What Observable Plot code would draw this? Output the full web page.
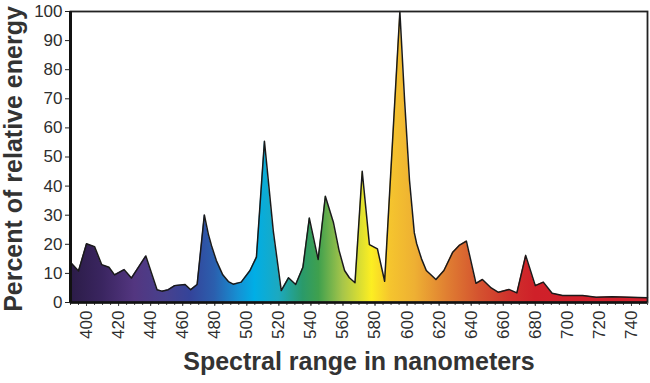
<!DOCTYPE html>
<html><head><meta charset="utf-8">
<script src="https://cdn.jsdelivr.net/npm/d3@7"></script>
<script src="https://cdn.jsdelivr.net/npm/@observablehq/plot@0.6"></script>
<style>body{margin:0;background:#fff}</style>
</head><body><div id="chart"></div>
<script>
const wavelengths = [390,395,400,405,409.5,414,417.5,423.5,428,437,444,447,451,455,461.5,465,469,473.5,476,478,481,485,488.5,491.5,496.5,502,506,511,516.5,521.5,526,530.5,535,539,544.5,549,554,557.5,561,564,567.5,572,576.5,581.5,586,595.5,598.5,601.5,604.5,606,609,612,618,623,628.5,632.5,637,643,647,652.5,657,663.5,668.5,674,680,685,690.5,697,709.5,718,728,738.5,750];
const energy = [13.8,10.8,20.2,19.2,13,12.1,9.5,11.3,8.4,16,4.4,3.9,4.4,5.8,6.2,4.4,6.2,30.1,23.5,19.5,14.4,9.5,7.2,6.3,7,11,15.6,55.4,24.7,4.1,8.5,6.2,12.1,29,14.8,36.5,27.6,18,11,8.5,6.8,45.1,19.9,18.4,7.3,100,69,42,24,20.2,15,11,7.9,11,17.3,19.6,21.1,6.6,7.9,5,3.5,4.5,3.3,16.2,5.8,7,3.2,2.4,2.4,1.8,2,1.8,1.6];
const xTicks = [400,420,440,460,480,500,520,540,560,580,600,620,640,660,680,700,720,740];
const xMinorTicks = d3.range(390, 751, 5);
const yTicks = [0,10,20,30,40,50,60,70,80,90,100];
const gradientNm = [390,410,430,450,465,480,495,505,520,535,545,560,578,590,605,625,645,665,680,750];
const gradientColors = ["#2b1c47","#3a2560","#533680","#47418e","#34449a","#2b5fae","#1591d4","#00aee6","#1ca9c0","#2a9a6a","#3fa04e","#a6c54a","#fcee22","#f5c42e","#eeb033","#e07f32","#d4532f","#d0302c","#cf2029","#d3202e"];
const xLabel = "Spectral range in nanometers";
const yLabel = "Percent of relative energy";

const data = wavelengths.map((w, i) => ({w, e: energy[i]}));

const plot = Plot.plot({
  width: 650, height: 383,
  marginLeft: 70, marginTop: 11, marginRight: 3, marginBottom: 81,
  style: {fontFamily: "'Liberation Sans', Arial, sans-serif", color: "#2e2e2e", background: "#fff"},
  x: {domain: [390, 750]},
  y: {domain: [0, 100]},
  marks: [
    Plot.areaY(data, {x: "w", y: "e", fill: "url(#spec)", curve: "linear"}),
    Plot.lineY(data, {x: "w", y: "e", stroke: "#1a1a1a", strokeWidth: 1.5}),
    Plot.frame({stroke: "#222", strokeWidth: 1.8}),
    Plot.axisY({ticks: yTicks, tickSize: 5, tickPadding: 3, fontSize: 17, label: null, stroke: "#222"}),
    Plot.axisX({ticks: xMinorTicks, tickSize: 3, tickFormat: () => "", label: null, stroke: "#444"}),
    Plot.axisX({ticks: xTicks, tickSize: 4, tickPadding: 4, tickRotate: -90, fontSize: 17, label: null, stroke: "#444"}),
    Plot.ruleX([390], {stroke: "#111", strokeWidth: 3}),
    Plot.ruleY([0], {stroke: "#111", strokeWidth: 2.5}),
    Plot.text([yLabel], {frameAnchor: "left", rotate: -90, dx: -57, dy: 2, fontSize: 25, fontWeight: "bold", fill: "#333", textAnchor: "middle", lineAnchor: "middle"}),
    Plot.text([xLabel], {frameAnchor: "bottom", dy: 59, fontSize: 25, fontWeight: "bold", fill: "#333", textAnchor: "middle", lineAnchor: "middle"})
  ]
});

const xs = plot.scale("x");
const svg = d3.select(plot);
const grad = svg.insert("defs", ":first-child").append("linearGradient")
  .attr("id", "spec").attr("gradientUnits", "userSpaceOnUse")
  .attr("x1", xs.apply(390)).attr("x2", xs.apply(750)).attr("y1", 0).attr("y2", 0);
gradientNm.forEach((nm, i) => {
  grad.append("stop").attr("offset", (nm - 390) / 360).attr("stop-color", gradientColors[i]);
});
document.getElementById("chart").appendChild(plot);
</script>
</body></html>
